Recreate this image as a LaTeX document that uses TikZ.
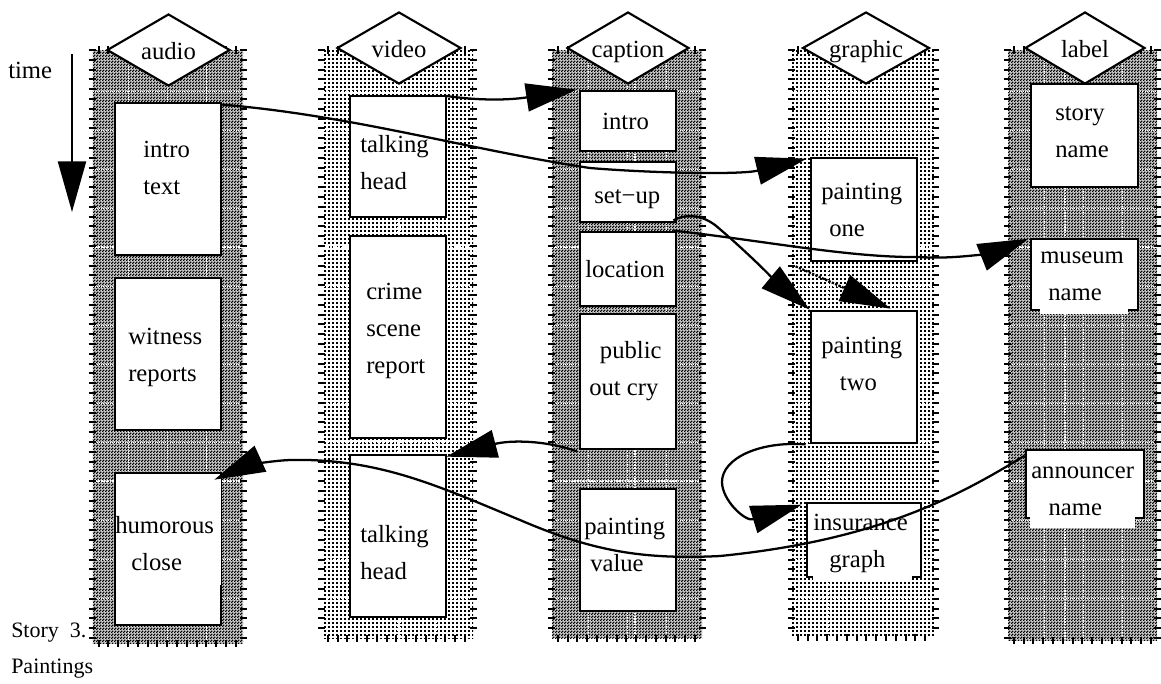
\documentclass[tikz,border=0pt]{standalone}
\usepackage{fontspec}
\setmainfont{Liberation Serif}
\usetikzlibrary{arrows.meta,patterns,shapes.geometric,calc}
\pgfdeclarepatternformonly{darkchk}{\pgfqpoint{0pt}{0pt}}{\pgfqpoint{2.25pt}{2.25pt}}{\pgfqpoint{2.25pt}{2.25pt}}{%
  \pgfpathrectangle{\pgfqpoint{0pt}{0pt}}{\pgfqpoint{1.35pt}{1.35pt}}%
  \pgfpathrectangle{\pgfqpoint{1.125pt}{1.125pt}}{\pgfqpoint{1.35pt}{1.35pt}}%
  \pgfusepath{fill}}
\pgfdeclarepatternformonly{lightdot}{\pgfqpoint{0pt}{0pt}}{\pgfqpoint{3pt}{3pt}}{\pgfqpoint{3pt}{3pt}}{%
  \pgfpathrectangle{\pgfqpoint{0pt}{0pt}}{\pgfqpoint{1.8pt}{1.8pt}}%
  \pgfusepath{fill}}
\tikzset{
  x=0.75pt,y=-0.75pt,
  itembox/.style={draw=black,fill=white,line width=2pt,inner sep=0pt},
  media/.style={draw=black,fill=white,diamond,aspect=1.7,line width=1.6pt,inner sep=0pt,text height=15pt,text depth=1pt,font=\fontsize{18.5}{22}\selectfont},
  lbl/.style={anchor=base west,inner sep=0pt,align=left,font=\fontsize{18.5}{27.5}\selectfont},
  small/.style={anchor=base west,inner sep=0pt,font=\fontsize{16.5}{20}\selectfont},
  flow/.style={line width=1.7pt,-{Triangle[length=38pt,width=21pt]}},
  ticks/.style={line width=1.5pt,black},
  grid/.style={white,line width=.6pt,densely dotted},
  gridstrong/.style={white,line width=1.1pt,densely dotted}
}
\begin{document}
\begin{tikzpicture}
\useasboundingbox (0,0) rectangle (1161,683);
% columns
\foreach \nm/\L/\R/\B/\pat/\base/\sx in {colA/92.7/243/643/darkchk/gray!35/114,colV/322/473/638/lightdot/white/78,colC/552/702/638/darkchk/gray!35/83,colG/792/935/637/lightdot/white/75,colL/1008/1157/640/darkchk/gray!35/57}{
  \pgfmathsetmacro{\wid}{(\R-\L)*.75}
  \pgfmathsetmacro{\hei}{(\B-50)*.75}
  \node[draw=none,inner sep=0pt,minimum width=\wid pt,minimum height=\hei pt,preaction={fill=\base},pattern=\pat,pattern color=black] (\nm) at ({(\L+\R)/2},{(50+\B)/2}) {};
  \foreach \gy in {91,130,169,208,247,286,325,364,403,442,481,520,559,598}{
    \draw[grid] (\L,\gy) -- (\R,\gy);}
  \foreach \gx in {36,75,114}{
    \draw[grid] ({\L+\gx},50) -- ({\L+\gx},\B);}
  \draw[gridstrong] ({\L+\sx},50) -- ({\L+\sx},\B);
  \draw[gridstrong] (\L,247) -- (\R,247);
  \draw[gridstrong] (\L,481) -- (\R,481);
  \pgfmathsetmacro{\cnt}{int((\B-50)/9.8)}
  \foreach \i in {0,...,\cnt}{
    \draw[ticks] ({\L-4},{50+9.8*\i}) -- ({\L+3},{50+9.8*\i});
    \draw[ticks] ({\R-3},{50+9.8*\i}) -- ({\R+4},{50+9.8*\i});}
  \pgfmathsetmacro{\cntx}{int((\R-\L)/9.8)}
  \foreach \i in {1,...,\cntx}{
    \draw[ticks] ({\L+9.8*\i-4},46) -- ({\L+9.8*\i-4},54);
    \draw[ticks] ({\L+9.8*\i-4},{\B-3}) -- ({\L+9.8*\i-4},{\B+4});}
}
% boxes
\foreach \nm/\xa/\ya/\xb/\yb in {
 a1/115/103/221/255,a2/115/278/221/430,a3/115/473/221/625,
 v1/350/96/446/217,v2/350/236/446/438,v3/350/455/446/617,
 c1/580/91/676/151,c2/580/162/676/222,c3/580/232/676/306,c4/580/314/676/449,c5/580/489/676/611,
 g1/811/158/917/261,g2/811/311/917/443,g3/807/503/921/577,
 l1/1031/84/1138/187,l2/1031/239/1138/310,l3/1026/450/1144/518}{
  \pgfmathsetmacro{\wid}{(\xb-\xa)*.75}
  \pgfmathsetmacro{\hei}{(\yb-\ya)*.75}
  \node[itembox,minimum width=\wid pt,minimum height=\hei pt] (\nm) at ({(\xa+\xb)/2},{(\ya+\yb)/2}) {};
}
% white patches that interrupt box edges
\fill[white] (813,570) rectangle (912,582);
\fill[white] (1030,510) rectangle (1135,528);
\fill[white] (1040,305) rectangle (1128,314);
\fill[white] (219.5,475) rectangle (221.2,585);
\draw[line width=.6pt] (221.5,475) -- (221.5,585);
% media diamonds
\foreach \nm/\cx/\cy/\w/\txt in {dA/168.5/50/123/audio,dV/399/48/124/video,dC/628/48/122/caption,dG/866/48/127/graphic,dL/1085/48/120/label}{
  \pgfmathsetmacro{\wid}{\w*.75}
  \node[media,minimum width=\wid pt,minimum height=54pt] (\nm) at (\cx,\cy) {\txt};
}
% texts
\node[lbl] (tA1) at (143,194) {intro\\text};
\node[lbl] (tA2) at (128,381) {witness\\reports};
\node[lbl] (tA3) at (115,570) {humorous\\\hspace*{12pt}close};
\node[lbl] (tV1) at (360,189) {talking\\head};
\node[lbl] (tV2) at (366,373) {crime\\scene\\report};
\node[lbl] (tV3) at (360,579) {talking\\head};
\node[lbl] (tC1) at (602,129) {intro};
\node[lbl] (tC2) at (594,203) {set−up};
\node[lbl] (tC3) at (585,277) {location};
\node[lbl] (tC4) at (589,395) {\hspace*{8pt}public\\out cry};
\node[lbl] (tC5) at (584,571) {painting\\\hspace*{4.5pt}value};
\node[lbl] (tG1) at (821,236) {painting\\\hspace*{6pt}one};
\node[lbl] (tG2) at (821,390) {painting\\\hspace*{14pt}two};
\node[lbl] (tG3) at (813,567) {insurance\\\hspace*{12pt}graph};
\node[lbl] (tL1) at (1055,157) {story\\name};
\node[lbl] (tL2) at (1040,300) {museum\\\hspace*{6pt}name};
\node[lbl] (tL3) at (1031,515) {announcer\\\hspace*{13pt}name};
\node[lbl] (tTime) at (8,78) {time};
\node[small] (tS1) at (11,637) {Story\ \ 3.};
\node[small] (tS2) at (11,673) {Paintings};
% time arrow
\coordinate (timeA) at (72,54);
\coordinate (timeB) at (72,212);
\draw[flow] (timeA) -- (timeB);
% connectors
\draw[flow] ([shift={(0,3)}]a1.north east) .. controls (350,115) and (470,150) .. (590,168) .. controls (650,173) and (740,175) .. ([shift={(-3,2)}]g1.north west);
\draw[flow] ([shift={(-3,1)}]v1.north east) .. controls (480,101) and (510,100) .. ([shift={(-2,0)}]c1.north west);
\draw[flow] ([shift={(-4,-3)}]c2.south east) .. controls (685,214) and (700,214) .. (715,225) .. controls (745,250) and (780,285) .. (g2.north west);
\draw[flow] ([shift={(-4,0)}]c3.north east) .. controls (760,240) and (850,258) .. (920,257) .. controls (960,260) and (1000,250) .. ([shift={(-1,1)}]l2.north west);
\draw[flow,densely dotted] ([shift={(-14,4)}]g1.south west) -- ([shift={(81,-1)}]g2.north west);
\draw[flow] ([shift={(-2,1)}]c4.south west) .. controls (545,440) and (510,440) .. ([shift={(-1,3)}]v3.north east);
\draw[flow] ([shift={(-4,0)}]g2.south west) .. controls (760,441) and (722,458) .. (722,482) .. controls (722,500) and (745,522) .. ([shift={(-4,3)}]g3.north west);
\draw[flow] ([shift={(0,7)}]l3.north west) .. controls (960,495) and (880,540) .. (720,556) .. controls (640,560) and (590,550) .. (520,520) .. controls (440,487) and (380,458) .. (290,460) .. controls (265,461) and (240,468) .. ([shift={(-8,8)}]a3.north east);
\end{tikzpicture}
\end{document}
